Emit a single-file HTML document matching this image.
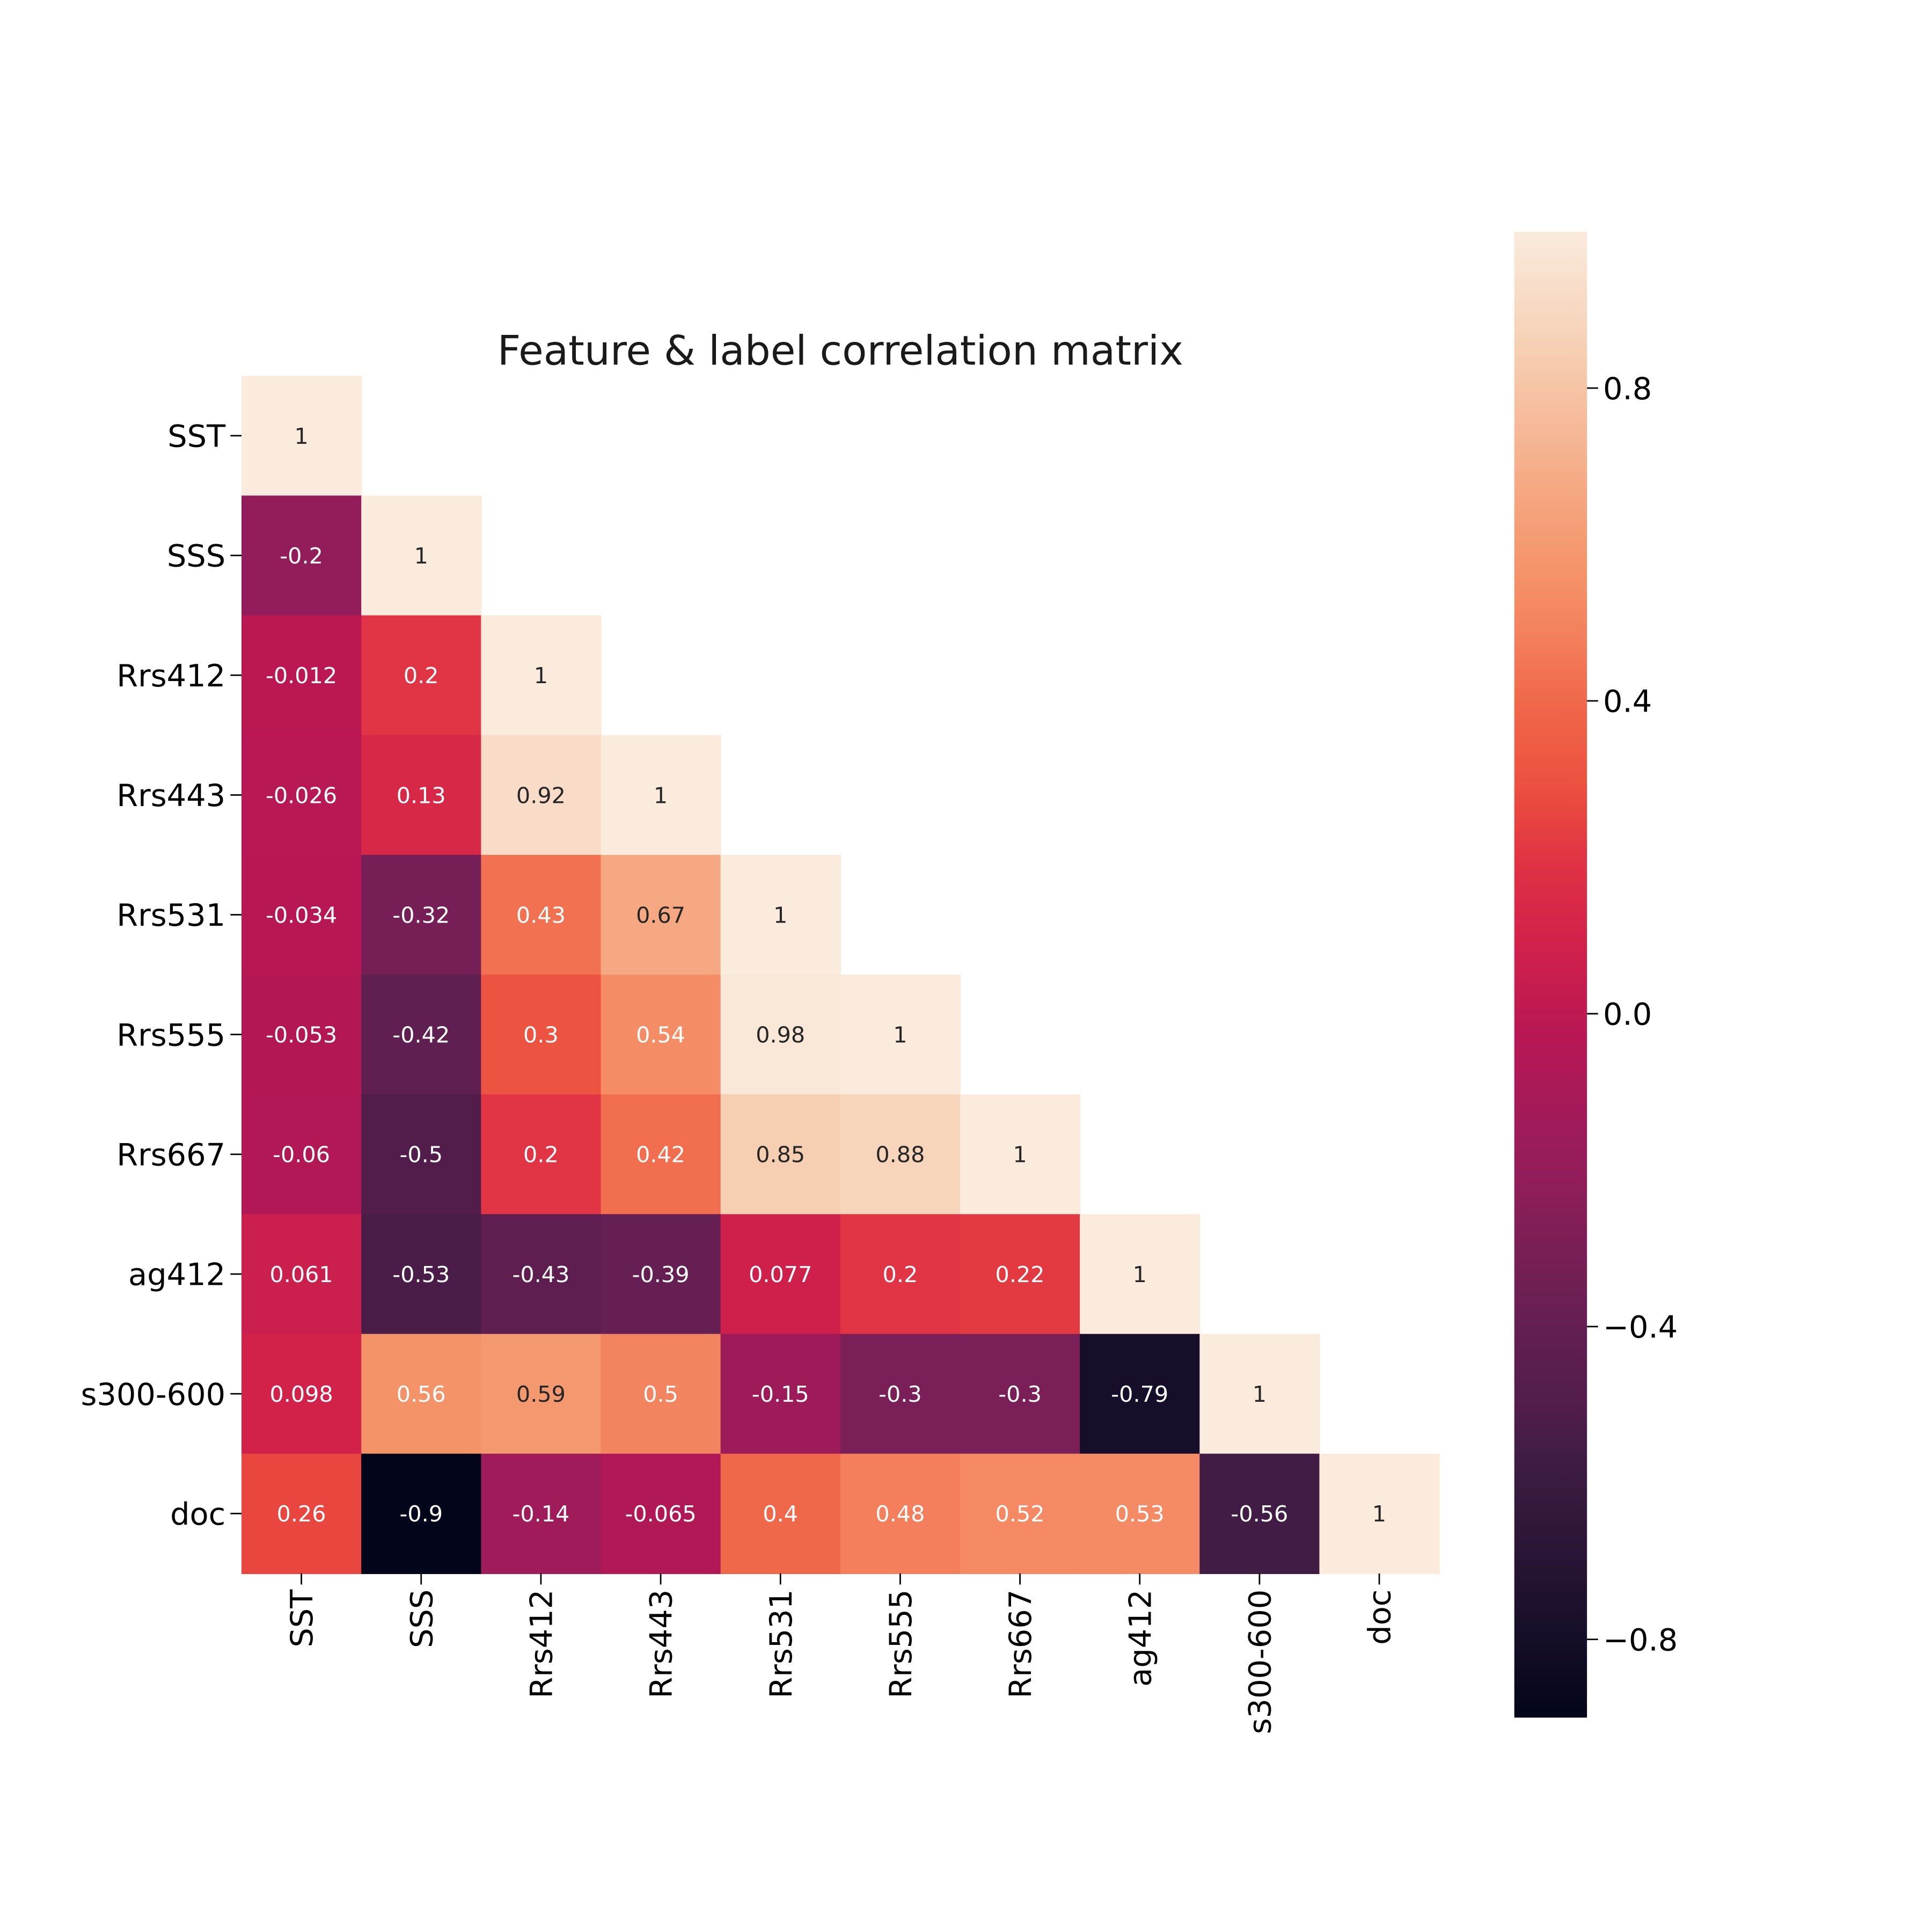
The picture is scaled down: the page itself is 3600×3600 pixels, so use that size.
<!DOCTYPE html>
<html><head><meta charset="utf-8">
<style>
html,body{margin:0;padding:0;background:#fff;}
svg{display:block;}
text{font-family:"DejaVu Sans","Liberation Sans",sans-serif;}
</style></head>
<body>
<svg id="chart" xmlns="http://www.w3.org/2000/svg" width="3600" height="3600" viewBox="0 0 1568 1568">
<defs>
<linearGradient id="cbgrad" x1="0" y1="1" x2="0" y2="0"></linearGradient>
</defs>
<rect x="0" y="0" width="1568" height="1568" fill="#fff"/>
<text x="682" y="296" font-size="33" text-anchor="middle" fill="#1a1a1a">Feature &amp; label correlation matrix</text>
<g id="cells"></g>
<g id="ylabels"></g>
<g id="xlabels"></g>
<g id="colorbar"></g>
</svg>
<script>
const categories = ["SST","SSS","Rrs412","Rrs443","Rrs531","Rrs555","Rrs667","ag412","s300-600","doc"];
const row0 = [1];
const row1 = [-0.2,1];
const row2 = [-0.012,0.2,1];
const row3 = [-0.026,0.13,0.92,1];
const row4 = [-0.034,-0.32,0.43,0.67,1];
const row5 = [-0.053,-0.42,0.3,0.54,0.98,1];
const row6 = [-0.06,-0.5,0.2,0.42,0.85,0.88,1];
const row7 = [0.061,-0.53,-0.43,-0.39,0.077,0.2,0.22,1];
const row8 = [0.098,0.56,0.59,0.5,-0.15,-0.3,-0.3,-0.79,1];
const row9 = [0.26,-0.9,-0.14,-0.065,0.4,0.48,0.52,0.53,-0.56,1];
const matrix = [row0,row1,row2,row3,row4,row5,row6,row7,row8,row9];
const cbTicks = [0.8,0.4,0.0,-0.4,-0.8];
const cbTickLabels = ["0.8","0.4","0.0","\u22120.4","\u22120.8"];
const vmin = -0.9, vmax = 1;

const NS = "http://www.w3.org/2000/svg";
const L = 196, T = 305, S = 97.2;
const cbX = 1229, cbW = 59, cbTop = 188, cbBot = 1394;

const stops = [
 [0.0,[3,5,26]],[0.058,[23,15,41]],[0.179,[65,29,69]],[0.21,[82,29,75]],
 [0.253,[96,31,81]],[0.305,[117,31,86]],[0.368,[147,29,90]],[0.4,[160,27,89]],
 [0.44,[177,24,86]],[0.467,[187,24,83]],[0.525,[211,34,74]],[0.579,[225,52,68]],
 [0.61,[232,70,63]],[0.63,[236,82,64]],[0.684,[240,104,74]],[0.726,[243,127,93]],
 [0.768,[244,146,104]],[0.826,[245,168,130]],[0.921,[246,207,179]],[1.0,[250,235,221]]
];
function cmap(t){
  t=Math.max(0,Math.min(1,t));
  for(let i=1;i<stops.length;i++){
    if(t<=stops[i][0]){
      const a=stops[i-1],b=stops[i],f=(t-a[0])/(b[0]-a[0]);
      const c=a[1].map((v,k)=>Math.round(v+(b[1][k]-v)*f));
      return "rgb("+c.join(",")+")";
    }
  }
  return "rgb(250,235,221)";
}
function norm(v){return (v-vmin)/(vmax-vmin);}
function xPos(i){return L+i*S;}
function yPos(j){return T+j*S;}
function cbY(v){return cbBot-(v-vmin)/(vmax-vmin)*(cbBot-cbTop);}
function mk(tag,attrs,parent){const e=document.createElementNS(NS,tag);for(const k in attrs)e.setAttribute(k,attrs[k]);parent.appendChild(e);return e;}

const cells=document.getElementById("cells");
matrix.forEach((row,r)=>{
  row.forEach((v,c)=>{
    const rect=mk("rect",{x:xPos(c),y:yPos(r),width:S+0.5,height:S+0.5,fill:cmap(norm(v))},cells);
    
    
    const t=mk("text",{x:xPos(c)+S/2,y:yPos(r)+S/2+6.5,"font-size":18,"text-anchor":"middle",fill:norm(v)>0.776?"#262626":"#ffffff"},cells);
    
    
    t.textContent=String(v);
  });
});

const yl=document.getElementById("ylabels");
categories.forEach((name,i)=>{
  const cy=yPos(i)+S/2;
  const tk=mk("line",{x1:L-9,x2:L,y1:cy,y2:cy,stroke:"#000","stroke-width":1.2},yl);
  
  
  const t=mk("text",{x:L-13,y:cy+9,"font-size":25,"text-anchor":"end",fill:"#000"},yl);
  
  
  t.textContent=name;
});
const xl=document.getElementById("xlabels");
const B=T+S*categories.length;
categories.forEach((name,i)=>{
  const cx=xPos(i)+S/2;
  const tk=mk("line",{x1:cx,x2:cx,y1:B,y2:B+9,stroke:"#000","stroke-width":1.2},xl);
  
  
  const t=mk("text",{x:0,y:0,"font-size":25,"text-anchor":"end",fill:"#000",transform:"translate("+(cx+9)+","+(B+13)+") rotate(-90)"},xl);
  
  
  t.textContent=name;
});

const grad=document.getElementById("cbgrad");
stops.forEach(s=>{mk("stop",{offset:s[0],"stop-color":"rgb("+s[1].join(",")+")"},grad);});
const cb=document.getElementById("colorbar");
const cbr=mk("rect",{x:cbX,y:cbTop,width:cbW,height:cbBot-cbTop,fill:"url(#cbgrad)"},cb);


cbTicks.forEach((v,i)=>{
  const y=cbY(v);
  const tk=mk("line",{x1:cbX+cbW,x2:cbX+cbW+9,y1:y,y2:y,stroke:"#000","stroke-width":1.2},cb);
  
  
  const t=mk("text",{x:cbX+cbW+13,y:y+9,"font-size":25,fill:"#000"},cb);
  
  
  t.textContent=cbTickLabels[i];
});
</script>
</body></html>
